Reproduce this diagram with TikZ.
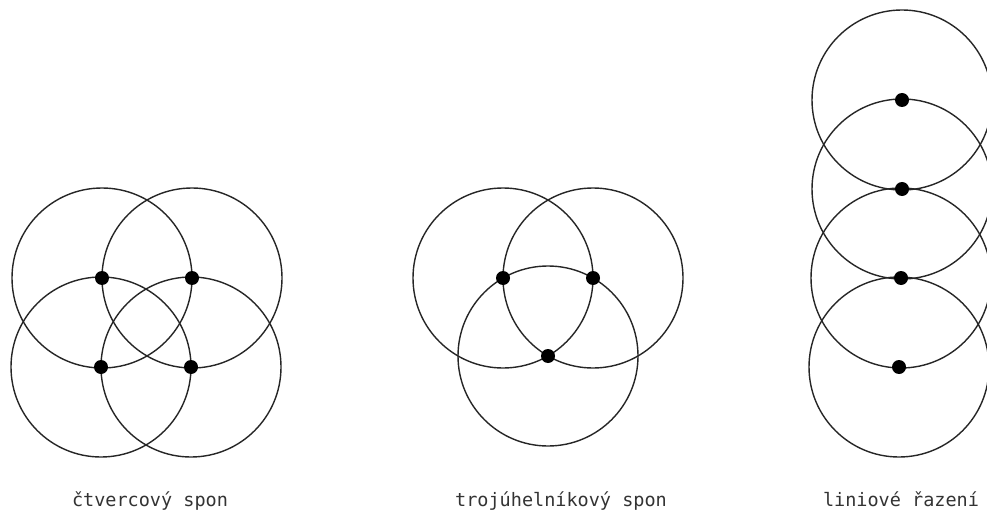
\documentclass[tikz,border=0pt]{standalone}
\usepackage{fontspec}
\newfontfamily\cadfont{DejaVu Sans Mono}
\begin{document}
\begin{tikzpicture}[x=1pt,y=-1pt,
  ring/.style={draw=black!85,line width=1.4pt},
  pin/.style={circle,fill=black,inner sep=0pt,minimum size=14pt},
  caption/.style={font=\cadfont\fontsize{18.5}{20}\selectfont,text=black!80,anchor=base,inner sep=0pt}]
\useasboundingbox (0,0) rectangle (987,513);
% square pattern
\coordinate (a1) at (102,278);
\coordinate (a2) at (192,278);
\coordinate (a3) at (101,367);
\coordinate (a4) at (191,367);
\foreach \c in {a1,a2,a3,a4} \draw[ring] (\c) circle (90);
\foreach \c in {a1,a2,a3,a4} \node[pin] (p\c) at (\c) {};
% triangle pattern
\coordinate (b1) at (503,278);
\coordinate (b2) at (593,278);
\coordinate (b3) at (548,356);
\foreach \c in {b1,b2,b3} \draw[ring] (\c) circle (90);
\foreach \c in {b1,b2,b3} \node[pin] (p\c) at (\c) {};
% line pattern
\coordinate (c1) at (902,100);
\coordinate (c2) at (902,189);
\coordinate (c3) at (901,278);
\coordinate (c4) at (899,367);
\foreach \c in {c1,c2,c3,c4} \draw[ring] (\c) circle (90);
\foreach \c in {c1,c2,c3,c4} \node[pin] (p\c) at (\c) {};
% captions
\node[caption] (t1) at (150,506) {čtvercový spon};
\node[caption] (t2) at (561,506) {trojúhelníkový spon};
\node[caption] (t3) at (901,506) {liniové řazení};
\end{tikzpicture}
\end{document}
